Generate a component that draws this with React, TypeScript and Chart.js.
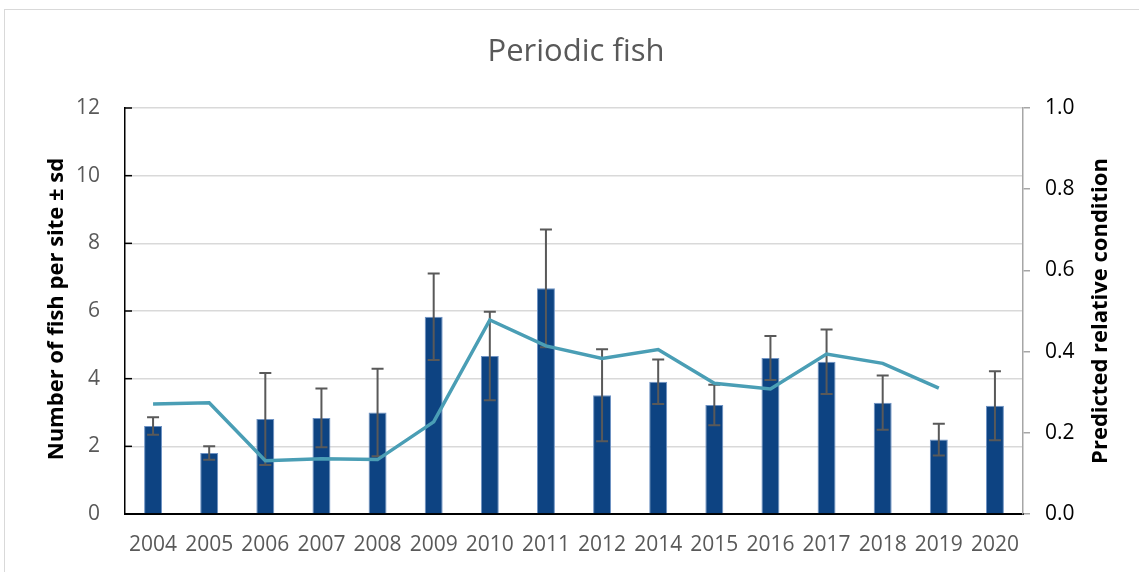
import React, { useEffect, useRef } from "react";
import { Chart, registerables } from "chart.js";

Chart.register(...registerables);

const years = ["2004", "2005", "2006", "2007", "2008", "2009", "2010", "2011", "2012", "2014", "2015", "2016", "2017", "2018", "2019", "2020"];
const fishPerSite = [2.6, 1.8, 2.81, 2.84, 3.0, 5.83, 4.67, 6.67, 3.51, 3.91, 3.22, 4.61, 4.5, 3.29, 2.2, 3.2];
const fishSd = [0.26, 0.2, 1.36, 0.87, 1.29, 1.28, 1.31, 1.74, 1.36, 0.66, 0.6, 0.65, 0.95, 0.8, 0.47, 1.02];
const relativeCondition = [0.271, 0.274, 0.131, 0.136, 0.134, 0.227, 0.478, 0.414, 0.383, 0.405, 0.322, 0.308, 0.394, 0.371, 0.31, null];

const chartTitle = "Periodic fish";
const leftTitle = "Number of fish per site \u00b1 sd";
const rightTitle = "Predicted relative condition";
const FONT = "'Open Sans', sans-serif";

const errorBarPlugin = {
  id: "errorBars",
  afterDatasetDraw(chart: any, args: any) {
    if (args.index !== 0) return;
    const meta = chart.getDatasetMeta(0);
    const y = chart.scales.y;
    const ctx = chart.ctx;
    ctx.save();
    ctx.strokeStyle = "#595959";
    ctx.lineWidth = 2;
    meta.data.forEach((bar: any, i: number) => {
      const v = fishPerSite[i];
      const sd = fishSd[i];
      const yTop = y.getPixelForValue(v + sd);
      const yBot = y.getPixelForValue(v - sd);
      const x = bar.x;
      ctx.beginPath();
      ctx.moveTo(x, yTop);
      ctx.lineTo(x, yBot);
      ctx.moveTo(x - 6, yTop);
      ctx.lineTo(x + 6, yTop);
      ctx.moveTo(x - 6, yBot);
      ctx.lineTo(x + 6, yBot);
      ctx.stroke();
    });
    ctx.restore();
  },
};

const decorPlugin = {
  id: "decor",
  afterDraw(chart: any) {
    const ctx = chart.ctx;
    const area = chart.chartArea;
    const y = chart.scales.y;
    ctx.save();
    ctx.strokeStyle = "#000000";
    ctx.lineWidth = 1.5;
    y.ticks.forEach((t: any) => {
      const py = y.getPixelForValue(t.value);
      ctx.beginPath();
      ctx.moveTo(area.left, py);
      ctx.lineTo(area.left + 7, py);
      ctx.stroke();
    });
    ctx.fillStyle = "#595959";
    ctx.font = `31px ${FONT}`;
    ctx.textAlign = "center";
    ctx.textBaseline = "middle";
    ctx.fillText(chartTitle, 576, 52);
    ctx.fillStyle = "#000000";
    ctx.font = `bold 22px ${FONT}`;
    const midY = (area.top + area.bottom) / 2;
    ctx.save();
    ctx.translate(57, midY - 2);
    ctx.rotate(-Math.PI / 2);
    ctx.fillText(leftTitle, 0, 0);
    ctx.restore();
    ctx.save();
    ctx.translate(1101, midY);
    ctx.rotate(-Math.PI / 2);
    ctx.fillText(rightTitle, 0, 0);
    ctx.restore();
    ctx.restore();
  },
};

export default function App() {
  const ref = useRef<HTMLCanvasElement>(null);
  useEffect(() => {
    if (!ref.current) return;
    const chart = new Chart(ref.current, {
      type: "bar",
      data: {
        labels: years,
        datasets: [
          {
            type: "bar",
            label: "Fish per site",
            data: fishPerSite,
            backgroundColor: "#0D4382",
            borderColor: "#6F93C4",
            borderWidth: 1,
            barPercentage: 0.32,
            categoryPercentage: 1,
            yAxisID: "y",
            order: 2,
          },
          {
            type: "line",
            label: "Predicted relative condition",
            data: relativeCondition,
            borderColor: "#4A9EB5",
            borderWidth: 3.5,
            pointRadius: 0,
            tension: 0,
            spanGaps: false,
            yAxisID: "y1",
            order: 1,
          } as any,
        ],
      },
      options: {
        responsive: false,
        animation: false,
        devicePixelRatio: 1,
        layout: { padding: { top: 108, left: 0, right: 0, bottom: 0 } },
        plugins: {
          legend: { display: false },
          title: { display: false },
          tooltip: { enabled: false },
        },
        scales: {
          x: {
            offset: true,
            grid: { display: false, drawTicks: false },
            border: { color: "#000000", width: 2 },
            ticks: { color: "#595959", font: { family: FONT, size: 21 }, padding: 18, maxRotation: 0, autoSkip: false },
            afterFit: (s: any) => { s.height = 58; },
          },
          y: {
            position: "left",
            min: 0,
            max: 12,
            ticks: { stepSize: 2, color: "#595959", font: { family: FONT, size: 21 }, padding: 25 },
            grid: { color: "#D9D9D9", lineWidth: 1.5, drawTicks: false },
            border: { color: "#000000", width: 1.5 },
            afterFit: (s: any) => { s.width = 125; },
          },
          y1: {
            position: "right",
            min: 0,
            max: 1,
            ticks: { stepSize: 0.2, color: "#000000", font: { family: FONT, size: 21 }, padding: 15, callback: (v: any) => Number(v).toFixed(1) },
            grid: { drawOnChartArea: false, color: "#A6A6A6", lineWidth: 1.5, tickLength: 7 },
            border: { color: "#A6A6A6", width: 1.5 },
            afterFit: (s: any) => { s.width = 116; },
          },
        },
      },
      plugins: [errorBarPlugin, decorPlugin],
    });
    return () => chart.destroy();
  }, []);

  return (
    <div style={{ position: "absolute", left: 0, top: 0, width: 1139, height: 572, background: "#ffffff" }}>
      <div style={{ position: "absolute", left: 4, top: 9, width: 1140, height: 570, border: "1px solid #D9D9D9", boxSizing: "border-box" }} />
      <canvas ref={ref} width={1139} height={572} style={{ position: "absolute", left: 0, top: 0 }} />
    </div>
  );
}
